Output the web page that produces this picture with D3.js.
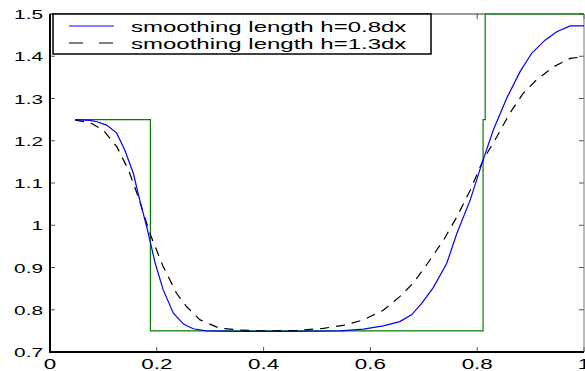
<!DOCTYPE html>
<html>
<head>
<meta charset="utf-8">
<script src="https://cdn.jsdelivr.net/npm/d3@7"></script>
<style>
  body { margin: 0; background: white; }
  text { font-family: "Liberation Sans", Arial, sans-serif; fill: black; }
</style>
</head>
<body>
<svg id="board" width="585" height="371"></svg>
<script>
// exact (initial) step profile
var exactX = [0.047, 0.188, 0.188, 0.811, 0.811, 0.815, 0.815, 1.0]
var exactY = [1.25, 1.25, 0.75, 0.75, 1.25, 1.25, 1.5, 1.5]

// smoothing length h=0.8dx
var h08X = [0.047, 0.075, 0.088, 0.106, 0.125, 0.140, 0.156, 0.168, 0.181, 0.187,
  0.197, 0.212, 0.231, 0.250, 0.268, 0.293, 0.35, 0.45, 0.543, 0.587, 0.624,
  0.655, 0.677, 0.696, 0.718, 0.743, 0.762, 0.787, 0.808, 0.830, 0.855, 0.880,
  0.902, 0.927, 0.949, 0.974, 1.0]
var h08Y = [1.250, 1.248, 1.245, 1.237, 1.218, 1.178, 1.123, 1.060, 0.997, 0.965,
  0.910, 0.847, 0.792, 0.766, 0.755, 0.750, 0.749, 0.749, 0.750, 0.754, 0.762,
  0.772, 0.788, 0.815, 0.853, 0.910, 0.981, 1.060, 1.143, 1.225, 1.300, 1.363,
  1.407, 1.438, 1.458, 1.472, 1.472]

// smoothing length h=1.3dx
var h13X = [0.047, 0.075, 0.100, 0.125, 0.147, 0.165, 0.187, 0.212, 0.237, 0.256,
  0.281, 0.318, 0.356, 0.399, 0.462, 0.512, 0.549, 0.587, 0.624, 0.655, 0.680,
  0.705, 0.737, 0.762, 0.787, 0.811, 0.837, 0.861, 0.886, 0.911, 0.943, 0.974, 1.0]
var h13Y = [1.249, 1.243, 1.225, 1.186, 1.131, 1.068, 0.981, 0.902, 0.839, 0.807,
  0.776, 0.756, 0.752, 0.750, 0.751, 0.756, 0.763, 0.776, 0.799, 0.831, 0.863,
  0.906, 0.965, 1.020, 1.083, 1.154, 1.210, 1.265, 1.312, 1.344, 1.375, 1.395, 1.399]

var xTicks = [0, 0.2, 0.4, 0.6, 0.8, 1]
var xTickLabels = ["0", "0.2", "0.4", "0.6", "0.8", "1"]
var yTicks = [0.7, 0.8, 0.9, 1, 1.1, 1.2, 1.3, 1.4, 1.5]
var yTickLabels = ["0.7", "0.8", "0.9", "1", "1.1", "1.2", "1.3", "1.4", "1.5"]
var legendLabels = ["smoothing length h=0.8dx", "smoothing length h=1.3dx"]

// text in the original is stretched sideways
var STRETCH = 1.6

var vis = d3.select("#board")
var x = d3.scaleLinear().domain([0, 1]).range([50, 584])
var y = d3.scaleLinear().domain([0.7, 1.5]).range([352, 14])

function zipPts(xs, ys) {
  return xs.map(function(v, i) { return [v, ys[i]] })
}

var line = d3.line()
  .x(function(d) { return x(d[0]) })
  .y(function(d) { return y(d[1]) })

// tick marks (inward), all four sides
var tickG = vis.append("g").attr("stroke", "#555").attr("stroke-width", 1)
yTicks.forEach(function(t) {
  tickG.append("line").attr("x1", 50).attr("x2", 55).attr("y1", y(t)).attr("y2", y(t))
  tickG.append("line").attr("x1", 579).attr("x2", 584).attr("y1", y(t)).attr("y2", y(t))
})
xTicks.forEach(function(t) {
  tickG.append("line").attr("x1", x(t)).attr("x2", x(t)).attr("y1", 352).attr("y2", 347)
  tickG.append("line").attr("x1", x(t)).attr("x2", x(t)).attr("y1", 14).attr("y2", 19)
})

// box
vis.append("line").attr("x1", 50).attr("x2", 584).attr("y1", 14).attr("y2", 14)
  .attr("stroke", "#333").attr("stroke-width", 1)
vis.append("line").attr("x1", 584).attr("x2", 584).attr("y1", 14).attr("y2", 352)
  .attr("stroke", "#777").attr("stroke-width", 1)

// curves
vis.append("path")
  .attr("d", line(zipPts(exactX, exactY)))
  .attr("fill", "none").attr("stroke", "#008000").attr("stroke-width", 1.2)
vis.append("path")
  .attr("d", line(zipPts(h13X, h13Y)))
  .attr("fill", "none").attr("stroke", "black").attr("stroke-width", 1.2)
  .attr("stroke-dasharray", "9,7")
vis.append("path")
  .attr("d", line(zipPts(h08X, h08Y)))
  .attr("fill", "none").attr("stroke", "#0000ff").attr("stroke-width", 1.2)

// left and bottom axis lines
vis.append("line").attr("x1", 50).attr("x2", 50).attr("y1", 14).attr("y2", 353)
  .attr("stroke", "black").attr("stroke-width", 2)
vis.append("line").attr("x1", 49).attr("x2", 584).attr("y1", 352).attr("y2", 352)
  .attr("stroke", "black").attr("stroke-width", 2)

// tick labels
vis.selectAll(".xlabel")
  .data(xTicks)
.enter().append("text")
  .attr("class", "xlabel")
  .attr("text-anchor", "middle")
  .attr("font-size", 14)
  .attr("transform", function(d) { return "translate(" + x(d) + ",369) scale(" + STRETCH + ",1)" })
  .text(function(d, i) { return xTickLabels[i] })

vis.selectAll(".ylabel")
  .data(yTicks)
.enter().append("text")
  .attr("class", "ylabel")
  .attr("text-anchor", "end")
  .attr("font-size", 13)
  .attr("transform", function(d) { return "translate(43," + (y(d) + 5) + ") scale(" + STRETCH + ",1)" })
  .text(function(d, i) { return yTickLabels[i] })

// legend
var legend = vis.append("g")
legend.append("rect")
  .attr("x", 53).attr("y", 14).attr("width", 378).attr("height", 40)
  .attr("fill", "white").attr("stroke", "black").attr("stroke-width", 1.5)
var legendStyles = [
  { color: "#0000ff", dash: null },
  { color: "black", dash: "14,16" }
]
legendLabels.forEach(function(label, i) {
  var ly = 26 + i * 17
  legend.append("line")
    .attr("x1", 69).attr("x2", 114).attr("y1", ly).attr("y2", ly)
    .attr("stroke", legendStyles[i].color).attr("stroke-width", 1.2)
    .attr("stroke-dasharray", legendStyles[i].dash)
  legend.append("text")
    .attr("font-size", 15)
    .attr("transform", "translate(131," + (ly + 6) + ") scale(" + STRETCH + ",1)")
    .text(label)
})
</script>
</body>
</html>
